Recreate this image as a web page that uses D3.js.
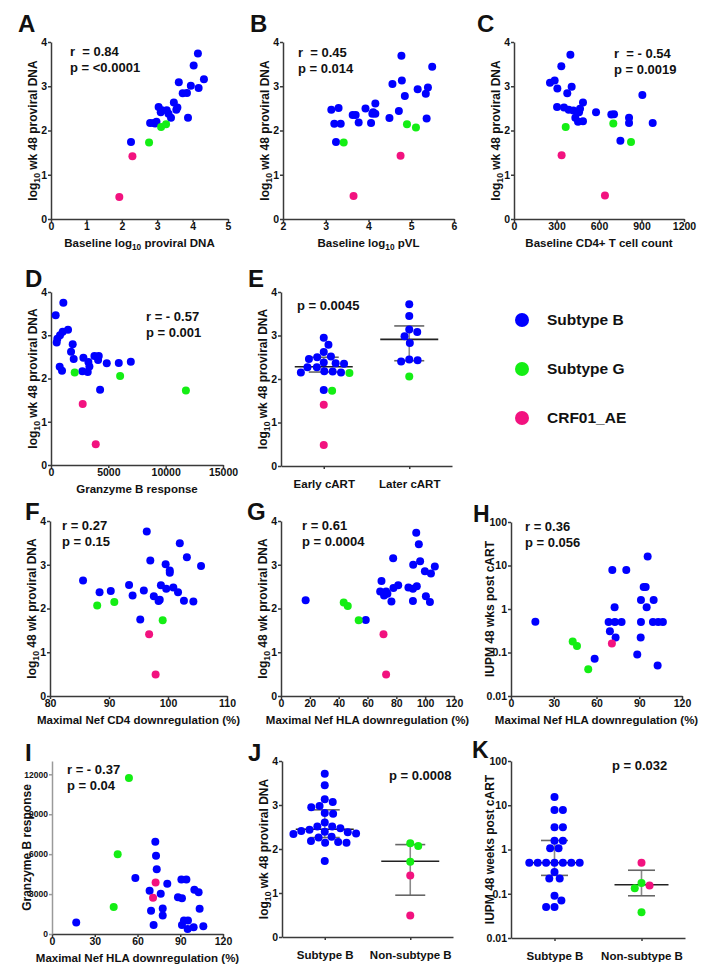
<!DOCTYPE html>
<html><head><meta charset="utf-8">
<script src="https://cdn.jsdelivr.net/npm/d3@7"></script>
<style>
body{margin:0;background:#fff}
text{font-family:"Liberation Sans",Arial,sans-serif;font-weight:bold;fill:#111}
</style>
</head><body><script>
// ---------------- DATA ----------------
// Panel A: baseline log10 proviral DNA vs log10 wk48 proviral DNA
const A_blue = [[4.15,3.74],[4.03,3.47],[3.61,3.09],[4.32,3.16],[3.95,3.01],[4.17,2.96],[3.72,2.84],[3.84,2.85],[3.47,2.63],[3.04,2.53],[3.13,2.46],[3.57,2.52],[3.54,2.47],[3.27,2.46],[3.10,2.41],[3.32,2.38],[3.39,2.29],[3.87,2.29],[2.98,2.20],[2.90,2.17],[2.80,2.17],[2.94,2.16],[2.26,1.74]];
const A_green = [[2.77,1.73],[3.11,2.08],[3.25,2.14]];
const A_pink = [[2.30,1.42],[1.93,0.50]];
// Panel B: baseline log10 pVL
const B_blue = [[4.77,3.69],[5.49,3.44],[4.78,3.13],[4.56,3.05],[5.15,2.93],[5.39,2.97],[5.34,2.83],[4.85,2.78],[4.16,2.61],[3.13,2.47],[3.30,2.51],[3.93,2.50],[4.71,2.44],[4.11,2.41],[4.16,2.38],[4.09,2.38],[3.63,2.35],[3.70,2.35],[4.49,2.28],[5.36,2.27],[3.77,2.18],[4.06,2.17],[3.20,2.15],[3.35,2.15],[3.24,1.74]];
const B_green = [[3.42,1.73],[4.90,2.14],[5.11,2.07]];
const B_pink = [[4.75,1.43],[3.65,0.52]];
// Panel C: baseline CD4+ T cell count
const C_blue = [[398,3.71],[334,3.45],[254,3.08],[287,3.13],[306,2.95],[407,2.99],[376,2.84],[906,2.80],[487,2.63],[304,2.53],[353,2.52],[386,2.47],[419,2.45],[466,2.49],[459,2.41],[579,2.41],[687,2.36],[706,2.37],[433,2.29],[812,2.29],[452,2.20],[487,2.21],[812,2.17],[979,2.17],[751,1.77]];
const C_green = [[365,2.08],[701,2.16],[826,1.74]];
const C_pink = [[336,1.44],[642,0.53]];
// Panel D: Granzyme B response
const D_blue = [[1077,3.75],[408,3.46],[1485,3.13],[1019,3.08],[786,3.00],[553,2.92],[495,2.83],[1893,2.79],[1747,2.62],[1980,2.45],[2825,2.48],[3786,2.52],[4164,2.52],[4106,2.43],[3261,2.38],[4863,2.35],[5911,2.36],[6960,2.39],[3349,2.28],[757,2.27],[961,2.18],[2737,2.17],[3203,2.15],[4281,1.74]];
const D_green = [[2067,2.14],[6028,2.06],[11765,1.72]];
const D_pink = [[2766,1.41],[3902,0.48]];
// Panel E: early vs later cART
const E_cats = ["Early cART","Later cART"];
const E_blue = [[2.95,2.79,2.62,2.50,2.38,2.35,2.36,2.46,2.52,2.27,2.27,2.17,2.15,2.15,2.18,1.75],[3.72,3.45,3.14,3.08,2.98,2.83,2.43,2.40,2.45]];
const E_green = [[2.14,1.73],[2.06]];
const E_pink = [[1.41,0.48],[]];
const E_median = [2.28,2.91], E_q1 = [2.16,2.42], E_q3 = [2.50,3.22];
// Panel F: Maximal Nef CD4 downregulation
const F_blue = [[85.6,2.64],[88.4,2.37],[90.3,2.40],[93.4,2.54],[94.0,2.30],[95.9,2.41],[96.4,3.76],[97.0,3.10],[97.6,2.28],[98.4,2.17],[98.6,2.20],[98.8,2.53],[99.6,3.01],[99.7,2.45],[100.3,2.87],[100.3,2.82],[100.9,2.48],[101.7,2.37],[102.0,3.49],[102.7,2.18],[103.2,3.17],[104.3,2.16],[105.6,2.97],[95.3,1.75]];
const F_green = [[88.0,2.07],[90.9,2.15],[99.1,1.73]];
const F_pink = [[96.8,1.41],[97.9,0.49]];
// Panel G: Maximal Nef HLA downregulation vs proviral DNA
const G_blue = [[17.1,2.19],[58.8,1.74],[69.7,2.63],[68.8,2.39],[71.5,2.30],[72.9,2.39],[73.8,2.34],[76.6,2.16],[78.0,2.47],[77.8,3.15],[81.3,2.53],[88.4,2.48],[91.5,2.45],[91.5,2.17],[91.7,3.00],[94.2,2.51],[93.8,3.73],[95.6,3.47],[96.5,3.08],[99.8,2.85],[100.5,2.28],[103.3,2.15],[104.0,2.80],[106.7,2.96]];
const G_green = [[43.5,2.14],[46.3,2.06],[53.9,1.73]];
const G_pink = [[71.1,1.41],[72.9,0.49]];
// Panel H: Maximal Nef HLA downregulation vs IUPM
const H_blue = [[17.1,0.51],[58.7,0.072],[71.1,7.9],[80.9,7.9],[95.9,16.1],[93.1,3.2],[94.5,3.2],[91.2,1.6],[100.1,1.6],[95.2,1.1],[72.7,1.1],[68.5,0.5],[72.9,0.5],[77.6,0.5],[91.2,0.5],[99.6,0.5],[103.3,0.5],[106.6,0.5],[69.4,0.31],[73.4,0.22],[91.0,0.22],[88.6,0.09],[102.9,0.05]];
const H_green = [[43.3,0.18],[46.3,0.142],[54.2,0.041]];
const H_pink = [[70.8,0.16]];
// Panel I: Maximal Nef HLA downregulation vs Granzyme B
const I_blue = [[17,870],[58.5,4217],[68.5,3244],[69.5,1747],[71.3,674],[72.5,6936],[73.0,5888],[73.5,4865],[76.3,3019],[77.7,1921],[77.7,1397],[80.9,3768],[88.4,2769],[91.2,2695],[90.8,4092],[94.3,4092],[91.2,674],[92.6,1023],[95.4,1023],[95.2,374],[99.9,3318],[102.9,3144],[99.4,499],[103.6,1896],[106.2,574]];
const I_green = [[54.0,11727],[46.1,5988],[43.3,2021]];
const I_pink = [[72.7,3867],[70.9,2720]];
// Panel J: subtype B vs non-subtype B (proviral DNA)
const J_cats = ["Subtype B","Non-subtype B"];
const J_blue = [[3.71,3.45,3.13,3.07,2.98,2.95,2.82,2.80,2.60,2.51,2.51,2.47,2.44,2.41,2.39,2.38,2.34,2.35,2.28,2.26,2.18,2.14,2.14,2.16,1.73],[]];
const J_green = [[],[2.13,2.07,1.71]];
const J_pink = [[],[1.40,0.49]];
const J_median = [2.45,1.72], J_q1 = [2.26,0.95], J_q3 = [2.89,2.10];
// Panel K: subtype B vs non-subtype B (IUPM)
const K_cats = ["Subtype B","Non-subtype B"];
const K_blue = [[15.4,7.85,7.85,3.19,3.19,1.57,1.57,1.07,1.07,0.5,0.5,0.5,0.5,0.5,0.5,0.5,0.31,0.22,0.22,0.09,0.07,0.05,0.05],[]];
const K_green = [[],[0.174,0.134,0.038]];
const K_pink = [[],[0.5,0.154]];
const K_median = [0.5,0.16], K_q1 = [0.26,0.09], K_q3 = [1.6,0.34];
// Legend
const legendLabels = ["Subtype B","Subtype G","CRF01_AE"];

// ---------------- DRAWING ----------------
const COL = {B:"#0000ff", G:"#14ee14", AE:"#f2127f"};
const AXIS = "#3a3a3a";
const R = 4;
const FONT = '"Liberation Sans", Arial, sans-serif';
const svg = d3.select("body").append("svg").attr("width",720).attr("height",969);

function rich(sel, parts){
  let prevSub=false;
  parts.forEach(t=>{
    const sub = Array.isArray(t);
    const s = sel.append("tspan").text(sub? t[0] : t);
    if(sub){ s.attr("font-size","0.72em").attr("dy",3); }
    else if(prevSub){ s.attr("dy",-3); }
    prevSub = sub;
  });
}

function styleAxis(g, fs){
  g.attr("font-family",FONT).attr("font-weight","bold").attr("font-size",fs);
  g.select(".domain").attr("stroke",AXIS).attr("stroke-width",1.5);
  g.selectAll(".tick line").attr("stroke",AXIS).attr("stroke-width",1.5);
  g.selectAll(".tick text").attr("fill","#111");
}

function axes(p, x, y){
  const gx = svg.append("g").attr("transform",`translate(0,${p.yb})`)
    .call(d3.axisBottom(x).tickValues(p.xTicks||x.domain()).tickSize(3).tickSizeOuter(0).tickPadding(1).tickFormat(p.xFmt||(d=>d)));
  styleAxis(gx, p.xfs||10.5);
  const gy = svg.append("g").attr("transform",`translate(${p.x0},0)`)
    .call(d3.axisLeft(y).tickValues(p.yTicks).tickSize(3).tickSizeOuter(0).tickPadding(1).tickFormat(d=>String(d)));
  styleAxis(gy, p.yfs||10.5);
  if(p.yAxisColor){ gy.select(".domain").attr("stroke",p.yAxisColor); gy.selectAll(".tick line").attr("stroke",p.yAxisColor); }
  // panel letter
  svg.append("text").attr("x",p.lx).attr("y",p.ly).attr("font-size",p.lfs||24).attr("fill","#000").text(p.letter);
  // x title
  if(p.xTitle){
    const t = svg.append("text").attr("x",(p.x0+p.x1)/2).attr("y",p.yb+28).attr("text-anchor","middle").attr("font-size",11.5);
    rich(t, p.xTitle);
  }
  // y title
  const yc = (p.yb+p.yt)/2, xt = p.x0 - (p.yTitleOff||14);
  const ty = svg.append("text").attr("transform",`translate(${xt},${yc}) rotate(-90)`).attr("text-anchor","middle").attr("font-size",p.ytfs||12);
  rich(ty, p.yTitle);
  // annotations
  p.notes.forEach((n,i)=>{
    svg.append("text").attr("x",p.nx).attr("y",p.ny+i*15.5).attr("font-size",13).attr("xml:space","preserve").style("white-space","pre").text(n);
  });
}

function scatterPanel(p, blue, green, pink){
  const x = d3.scaleLinear().domain(p.xDom).range([p.x0,p.x1]);
  const y = (p.log? d3.scaleLog() : d3.scaleLinear()).domain(p.yDom).range([p.yb,p.yt]);
  axes(p, x, y);
  const pts = [].concat(blue.map(d=>({d,c:COL.B})), green.map(d=>({d,c:COL.G})), pink.map(d=>({d,c:COL.AE})));
  svg.append("g").selectAll("circle").data(pts).join("circle")
    .attr("cx",o=>x(o.d[0])).attr("cy",o=>y(o.d[1])).attr("r",R).attr("fill",o=>o.c);
}

function swarm(list, y, d){
  const pts = list.map(o=>({...o, py:y(o.v)})).sort((a,b)=>a.py-b.py);
  const placed=[];
  pts.forEach(p=>{
    const iv = placed.filter(q=>Math.abs(q.py-p.py)<d).map(q=>{const w=Math.sqrt(d*d-(q.py-p.py)**2); return [q.dx-w,q.dx+w];});
    const cands=[0]; iv.forEach(i=>{cands.push(i[0],i[1]);});
    cands.sort((a,b)=>Math.abs(a)-Math.abs(b) || b-a);
    let dx=0;
    for(const c of cands){ if(!iv.some(i=>i[0]<c-1e-6 && c+1e-6<i[1])){dx=c;break;} }
    p.dx=dx; placed.push(p);
  });
  return pts;
}

function dotPanel(p, cats, blue, green, pink, med, q1, q3){
  const x = d3.scalePoint().domain(cats).range([p.x0,p.x1]).padding(0.5);
  const y = (p.log? d3.scaleLog() : d3.scaleLinear()).domain(p.yDom).range([p.yb,p.yt]);
  p.xTicks = cats; p.xfs = 11.5;
  axes(p, x, y);
  svg.selectAll(".tick text").filter(function(){return cats.includes(this.textContent);}).attr("dy","1.6em").attr("font-size",11.5);
  cats.forEach((c,i)=>{
    const cx = x(c);
    const g = svg.append("g");
    g.append("line").attr("x1",cx).attr("x2",cx).attr("y1",y(q1[i])).attr("y2",y(q3[i])).attr("stroke","#8a8a8a").attr("stroke-width",1.6);
    [q1[i],q3[i]].forEach(v=>g.append("line").attr("x1",cx-p.capW/2).attr("x2",cx+p.capW/2).attr("y1",y(v)).attr("y2",y(v)).attr("stroke","#666").attr("stroke-width",1.6));
    g.append("line").attr("x1",cx-p.medW/2).attr("x2",cx+p.medW/2).attr("y1",y(med[i])).attr("y2",y(med[i])).attr("stroke","#222").attr("stroke-width",1.6);
    const list = [].concat(blue[i].map(v=>({v,c:COL.B})), green[i].map(v=>({v,c:COL.G})), pink[i].map(v=>({v,c:COL.AE})));
    const sw = swarm(list, y, 8.4);
    g.selectAll("circle").data(sw).join("circle").attr("cx",o=>cx+o.dx).attr("cy",o=>o.py).attr("r",R).attr("fill",o=>o.c);
  });
}

const logY = ["log",["10"]," wk 48 proviral DNA"];
const logY2 = ["log",["10"]," 48 wk proviral DNA"];
const y04 = [0,1,2,3,4];

scatterPanel({letter:"A",lx:18,ly:32,x0:51,x1:228,yb:219,yt:42,xDom:[0,5],yDom:[0,4],xTicks:[0,1,2,3,4,5],yTicks:y04,
  xTitle:["Baseline log",["10"]," proviral DNA"],yTitle:logY,notes:["r  = 0.84","p = <0.0001"],nx:70,ny:56}, A_blue,A_green,A_pink);
scatterPanel({letter:"B",lx:250,ly:32,x0:283,x1:454,yb:219,yt:42,xDom:[2,6],yDom:[0,4],xTicks:[2,3,4,5,6],yTicks:y04,
  xTitle:["Baseline log",["10"]," pVL"],yTitle:logY,notes:["r  = 0.45","p = 0.014"],nx:298,ny:57}, B_blue,B_green,B_pink);
scatterPanel({letter:"C",lx:477,ly:32,x0:514,x1:684,yb:219,yt:42,xDom:[0,1200],yDom:[0,4],xTicks:[0,300,600,900,1200],yTicks:y04,
  xTitle:["Baseline CD4+ T cell count"],yTitle:logY,notes:["r  = - 0.54","p = 0.0019"],nx:614,ny:58}, C_blue,C_green,C_pink);
scatterPanel({letter:"D",lx:25,ly:287,x0:51,x1:223,yb:465,yt:292,xDom:[0,15000],yDom:[0,4],xTicks:[0,5000,10000,15000],yTicks:y04,
  xTitle:["Granzyme B response"],yTitle:logY,notes:["r = - 0.57","p = 0.001"],nx:146,ny:321}, D_blue,D_green,D_pink);
dotPanel({letter:"E",lx:248,ly:287,x0:281,x1:452,yb:466,yt:292,yDom:[0,4],yTicks:y04,yTitle:logY,notes:["p = 0.0045"],nx:297,ny:310,capW:30,medW:58},
  E_cats,E_blue,E_green,E_pink,E_median,E_q1,E_q3);
scatterPanel({letter:"F",lx:25,ly:520,x0:50,x1:227,yb:696,yt:521,xDom:[80,110],yDom:[0,4],xTicks:[80,90,100,110],yTicks:y04,
  xTitle:["Maximal Nef CD4 downregulation (%)"],yTitle:logY2,notes:["r = 0.27","p = 0.15"],nx:62,ny:530}, F_blue,F_green,F_pink);
scatterPanel({letter:"G",lx:247,ly:520,x0:281,x1:454,yb:696,yt:521,xDom:[0,120],yDom:[0,4],xTicks:[0,20,40,60,80,100,120],yTicks:y04,
  xTitle:["Maximal Nef HLA downregulation (%)"],yTitle:logY2,notes:["r = 0.61","p = 0.0004"],nx:302,ny:530}, G_blue,G_green,G_pink);
scatterPanel({letter:"H",lx:473,ly:522,lfs:23,x0:511,x1:682,yb:696,yt:522,log:true,xDom:[0,120],yDom:[0.01,100],xTicks:[0,30,60,90,120],yTicks:[0.01,0.1,1,10,100],
  xTitle:["Maximal Nef HLA downregulation (%)"],yTitle:["IUPM 48 wks post cART"],yTitleOff:17,notes:["r = 0.36","p = 0.056"],nx:525,ny:531}, H_blue,H_green,H_pink);
scatterPanel({letter:"I",lx:25,ly:761,x0:52,x1:223,yb:934,yt:761,xDom:[0,120],yDom:[0,13000],xTicks:[0,30,60,90,120],yTicks:[0,3000,6000,9000,12000],yfs:8.5,yAxisColor:"#9a9a9a",
  xTitle:["Maximal Nef HLA downregulation (%)"],yTitle:["Granzyme B response"],yTitleOff:21,notes:["r = - 0.37","p = 0.04"],nx:67,ny:774}, I_blue,I_green,I_pink);
dotPanel({letter:"J",lx:248,ly:761,x0:282,x1:453,yb:937,yt:761,yDom:[0,4],yTicks:y04,yTitle:logY,notes:["p = 0.0008"],nx:389,ny:780,capW:30,medW:58},
  J_cats,J_blue,J_green,J_pink,J_median,J_q1,J_q3);
dotPanel({letter:"K",lx:472,ly:758,lfs:23,x0:511,x1:685,yb:938,yt:761,log:true,yDom:[0.01,100],yTicks:[0.01,0.1,1,10,100],yTitle:["IUPM 48 weeks post cART"],yTitleOff:17,notes:["p = 0.032"],nx:612,ny:770,capW:27,medW:54},
  K_cats,K_blue,K_green,K_pink,K_median,K_q1,K_q3);

// legend
const legCol = [COL.B,COL.G,COL.AE];
const lg = svg.append("g");
legendLabels.forEach((l,i)=>{
  const yy = 320 + i*49;
  lg.append("circle").attr("cx",522).attr("cy",yy).attr("r",7).attr("fill",legCol[i]);
  lg.append("text").attr("x",547).attr("y",yy).attr("dy","0.35em").attr("font-size",15.5).text(l);
});
</script></body></html>
